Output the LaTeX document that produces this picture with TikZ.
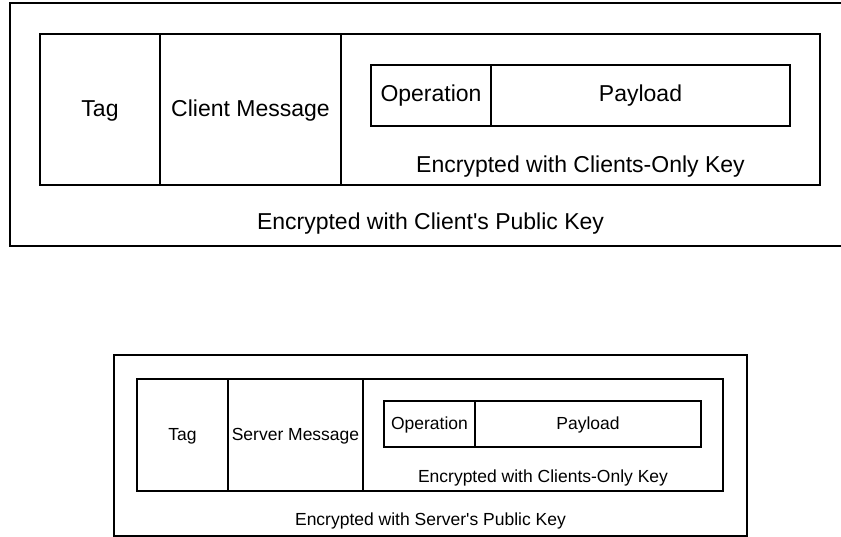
\documentclass[tikz,border=0pt]{standalone}
\usepackage{fontspec}
\setmainfont{Liberation Sans}
\begin{document}
\begin{tikzpicture}[x=1pt,y=-1pt,
  thinbox/.style={draw=black, line width=1.4pt},
  midbox/.style={draw=black, line width=2pt},
  thickbox/.style={draw=black, line width=2.6pt},
  bigtext/.style={font=\fontsize{23}{27}\selectfont, anchor=base, inner sep=0pt},
  smalltext/.style={font=\fontsize{17.5}{21}\selectfont, anchor=base, inner sep=0pt}]
\useasboundingbox (0,0) rectangle (841,537);
\clip (0,0) rectangle (841,537);
% ---------- top diagram ----------
\draw[thinbox] (10,3) rectangle (851,246);
\draw[thinbox, line width=2pt] (10,3) -- (851,3);
\draw[midbox] (40,34) rectangle (820,185);
\draw[thickbox] (160,34) -- (160,185);
\draw[thickbox] (341,34) -- (341,185);
\draw[thickbox] (371,65) rectangle (790,126);
\draw[midbox] (491,65) -- (491,126);
\node[bigtext] (ttag) at (100,117) {Tag};
\node[bigtext] (tcm) at (250.5,117) {Client Message};
\node[bigtext] (top) at (431,102) {Operation};
\node[bigtext] (tpay) at (640.5,102) {Payload};
\node[bigtext] (tco) at (580.5,173) {Encrypted with Clients-Only Key};
\node[bigtext] (tpk) at (430.5,230) {Encrypted with Client\textquotesingle s Public Key};
% ---------- bottom diagram ----------
\draw[thinbox, line width=1.5pt] (114,355) rectangle (747,536);
\draw[thinbox, line width=2.4pt] (114,355) -- (747,355);
\draw[thinbox, line width=1.2pt] (137,379) rectangle (723,491);
\draw[thinbox, line width=1.2pt] (228,379) -- (228,491);
\draw[thinbox, line width=1.4pt] (363,379) -- (363,491);
\draw[thinbox, line width=2pt] (384,401) rectangle (701,447);
\draw[thinbox, line width=1.4pt] (475,401) -- (475,447);
\node[smalltext] (btag) at (182.5,440) {Tag};
\node[smalltext] (bsm) at (295.5,440) {Server Message};
\node[smalltext] (bop) at (429.5,429) {Operation};
\node[smalltext] (bpay) at (588,429) {Payload};
\node[smalltext] (bco) at (543,482) {Encrypted with Clients-Only Key};
\node[smalltext] (bpk) at (430.5,525) {Encrypted with Server\textquotesingle s Public Key};
\end{tikzpicture}
\end{document}
